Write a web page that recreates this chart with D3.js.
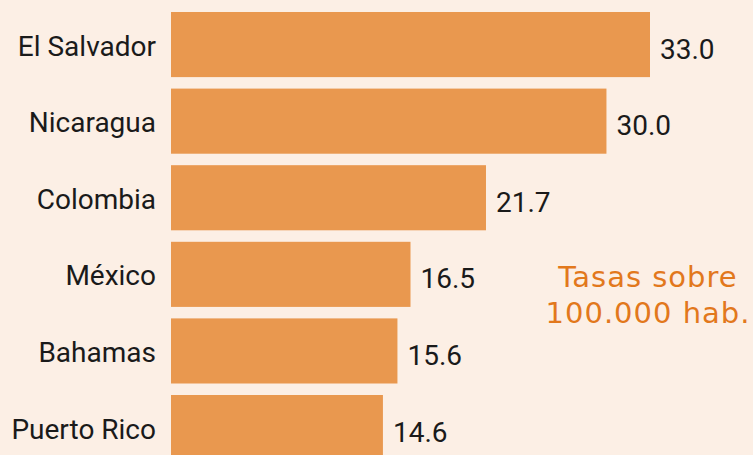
<!DOCTYPE html>
<html>
<head>
<meta charset="utf-8">
<script src="https://cdn.jsdelivr.net/npm/d3@7"></script>
<style>
  html, body { margin: 0; padding: 0; background: #fcefe5; }
  svg { display: block; }
  .label { font-family: Roboto, sans-serif; font-size: 28px; fill: #1a1a1a; }
  .note { font-family: "DejaVu Sans", sans-serif; font-size: 29px; fill: #e2781c; letter-spacing: 1px; }
</style>
</head>
<body>
<div id="chart"></div>
<script>
// homicide rates per 100,000 inhabitants
var countries = ["El Salvador", "Nicaragua", "Colombia", "México", "Bahamas", "Puerto Rico"];
var rates = [33.0, 30.0, 21.7, 16.5, 15.6, 14.6];
var noteLines = ["Tasas sobre", "100.000 hab."];

var width = 753,
    height = 455;

var barColor = "#e9984f";

var svg = d3.select("#chart")
    .append("svg")
    .attr("width", width)
    .attr("height", height);

svg.append("rect")
    .attr("width", width)
    .attr("height", height)
    .attr("fill", "#fcefe5");

var data = countries.map(function (c, i) {
    return { name: c, value: rates[i] };
});

var xScale = d3.scaleLinear()
    .domain([0, 33])
    .range([171, 650]);

var yScale = d3.scaleBand()
    .domain(countries)
    .range([6.25, 465.85])
    .paddingInner(0.15)
    .paddingOuter(0.075);

var bars = svg.selectAll(".bar-group")
    .data(data).enter()
    .append("g")
    .attr("class", "bar-group");

bars.append("rect")
    .attr("x", xScale(0))
    .attr("y", d => yScale(d.name))
    .attr("width", d => xScale(d.value) - xScale(0))
    .attr("height", yScale.bandwidth())
    .attr("fill", barColor);

// country names
bars.append("text")
    .attr("class", "label")
    .attr("x", 156)
    .attr("y", d => yScale(d.name) + yScale.bandwidth() / 2 + 11)
    .attr("text-anchor", "end")
    .text(d => d.name);

// values
bars.append("text")
    .attr("class", "label")
    .attr("x", d => xScale(d.value) + 10)
    .attr("y", d => yScale(d.name) + yScale.bandwidth() / 2 + 14)
    .text(d => d.value.toFixed(1));

svg.selectAll(".note")
    .data(noteLines).enter()
    .append("text")
    .attr("class", "note")
    .attr("x", 648)
    .attr("y", (d, i) => 287 + i * 36)
    .attr("text-anchor", "middle")
    .text(d => d);
</script>
</body>
</html>
